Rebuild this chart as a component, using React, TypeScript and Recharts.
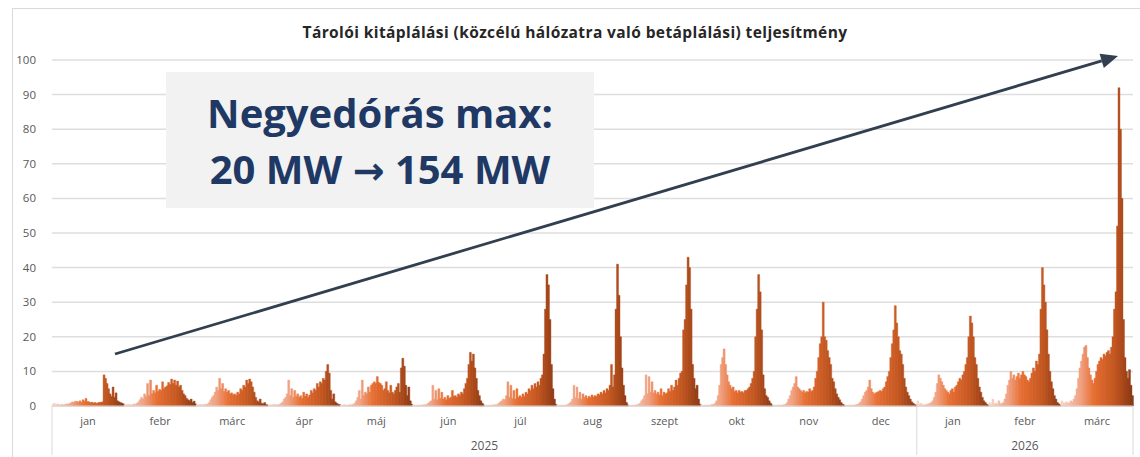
import React from "react";
import { Bar, BarChart, CartesianGrid, Cell, XAxis, YAxis } from "recharts";

// 15 months, each split into 48 half-hour slots of the day
const monthLabels = ["jan", "febr", "márc", "ápr", "máj", "jún", "júl", "aug", "szept", "okt", "nov", "dec", "jan", "febr", "márc"];
const monthYears = ["2025", "2025", "2025", "2025", "2025", "2025", "2025", "2025", "2025", "2025", "2025", "2025", "2026", "2026", "2026"];
const yTicks = [0, 10, 20, 30, 40, 50, 60, 70, 80, 90, 100];

const jan25 = [
  0.5, 0.8, 0.3, 0.6, 0.4, 0.3, 0.5, 0.3, 0.4, 0.6, 0.5, 0.7,
  0.9, 1.2, 1.0, 1.4, 1.3, 1.2, 1.5, 1.1, 1.8, 1.4, 2.2, 1.3,
  1.2, 1.0, 1.1, 0.9, 1.0, 0.8, 0.9, 1.1, 1.0, 1.2, 9.0, 8.0,
  6.5, 5.0, 3.5, 2.8, 5.5, 2.5, 3.8, 1.5, 1.2, 1.0, 0.8, 0.6,
];
const feb25 = [
  0.4, 0.3, 0.5, 0.3, 0.4, 0.3, 0.6, 0.5, 0.8, 1.2, 1.8, 2.5,
  2.0, 3.5, 2.8, 6.5, 3.0, 7.5, 3.5, 4.5, 3.8, 6.0, 4.2, 4.8,
  4.5, 7.0, 5.0, 5.5, 5.8, 6.8, 6.2, 7.8, 6.5, 7.5, 6.0, 7.2,
  5.5, 6.0, 4.5, 3.5, 3.0, 2.2, 1.8, 1.5, 2.0, 1.0, 1.4, 0.6,
];
const mar25 = [
  0.4, 0.3, 0.5, 0.4, 0.3, 0.5, 0.4, 0.6, 1.0, 1.8, 2.5, 3.0,
  4.0, 5.5, 4.5, 8.0, 5.0, 6.5, 4.2, 5.0, 4.0, 4.5, 3.5, 3.8,
  3.2, 3.5, 3.0, 4.0, 3.5, 5.0, 4.5, 6.0, 5.5, 7.5, 6.5, 7.8,
  7.0, 5.5, 4.0, 2.5, 1.5, 1.2, 2.0, 0.8, 0.6, 1.0, 0.4, 0.3,
];
const apr25 = [
  0.3, 0.4, 0.3, 0.5, 0.3, 0.4, 0.3, 0.5, 0.8, 1.2, 2.0, 2.5,
  3.5, 7.5, 3.0, 5.0, 2.5, 4.5, 2.8, 3.5, 2.5, 3.0, 2.2, 4.0,
  2.8, 3.5, 2.5, 3.2, 4.5, 3.8, 5.0, 4.5, 6.5, 5.5, 7.0, 6.5,
  8.0, 7.5, 10.0, 12.0, 9.5, 4.5, 2.0, 3.5, 1.2, 0.8, 0.5, 0.4,
];
const may25 = [
  0.3, 0.2, 0.4, 0.3, 0.2, 0.3, 0.4, 0.3, 0.5, 0.8, 1.5, 2.5,
  4.5, 2.0, 7.5, 3.0, 4.0, 3.5, 5.5, 4.0, 6.0, 6.5, 7.0, 6.5,
  8.5, 6.8, 6.5, 6.0, 4.5, 5.0, 7.0, 4.5, 3.8, 6.0, 4.0, 3.5,
  4.5, 5.5, 6.5, 4.0, 11.0, 13.8, 11.5, 6.0, 3.0, 5.5, 1.5, 0.5,
];
const jun25 = [
  0.3, 0.2, 0.3, 0.2, 0.3, 0.2, 0.3, 0.4, 0.3, 0.5, 0.8, 1.2,
  1.5, 6.0, 2.0, 4.5, 1.8, 5.0, 2.2, 4.0, 2.0, 2.5, 1.8, 3.0,
  2.2, 2.5, 4.5, 2.8, 3.0, 2.5, 3.5, 3.0, 4.0, 3.5, 5.0, 6.5,
  8.0, 12.0, 15.5, 13.0, 15.0, 11.0, 8.0, 4.5, 3.0, 1.5, 0.8, 0.3,
];
const jul25 = [
  0.3, 0.2, 0.3, 0.2, 0.3, 0.2, 0.4, 0.3, 0.5, 0.8, 1.2, 1.5,
  2.0, 1.8, 3.0, 7.0, 2.5, 6.0, 2.2, 4.5, 2.0, 5.0, 2.5, 3.0,
  2.5, 3.5, 2.8, 4.0, 3.5, 5.0, 4.5, 6.0, 5.0, 6.5, 5.5, 7.0,
  6.0, 8.0, 9.0, 15.0, 28.0, 38.0, 35.0, 25.0, 12.0, 5.0, 2.0, 0.5,
];
const aug25 = [
  0.3, 0.2, 0.3, 0.2, 0.3, 0.2, 0.3, 0.5, 0.8, 1.2, 2.0, 6.0,
  2.5, 5.5, 2.2, 4.0, 2.0, 3.5, 2.5, 3.0, 2.2, 2.8, 2.5, 3.2,
  2.6, 3.0, 2.8, 3.5, 3.2, 4.0, 3.5, 4.5, 3.8, 5.0, 4.5, 6.0,
  12.0, 5.5, 9.0, 28.0, 41.0, 32.0, 20.0, 11.0, 6.0, 3.0, 1.0, 0.3,
];
const sep25 = [
  0.3, 0.2, 0.3, 0.2, 0.3, 0.4, 0.5, 0.8, 1.5, 2.0, 3.0, 9.0,
  3.5, 8.5, 4.0, 7.0, 3.8, 4.5, 3.5, 4.0, 3.2, 5.0, 3.0, 4.0,
  3.5, 3.8, 5.0, 4.2, 6.0, 4.5, 5.5, 7.5, 6.0, 8.0, 9.5, 10.0,
  22.0, 25.0, 35.0, 43.0, 40.0, 28.0, 12.0, 8.0, 5.0, 6.0, 2.0, 0.5,
];
const oct25 = [
  0.3, 0.2, 0.3, 0.2, 0.3, 0.2, 0.3, 0.5, 0.4, 0.8, 1.5, 3.0,
  6.0, 12.0, 14.0, 16.5, 12.0, 9.0, 7.0, 6.0, 5.0, 5.5, 4.2, 4.5,
  3.8, 4.5, 4.0, 4.2, 3.8, 4.5, 4.5, 5.0, 5.5, 6.5, 8.0, 10.0,
  20.0, 28.0, 38.0, 33.0, 22.0, 9.0, 5.0, 3.0, 2.5, 1.5, 0.8, 0.3,
];
const nov25 = [
  0.3, 0.2, 0.3, 0.2, 0.3, 0.2, 0.3, 0.4, 0.5, 1.0, 2.0, 3.0,
  4.5, 5.5, 6.5, 8.5, 5.5, 5.0, 4.5, 4.0, 4.5, 3.8, 4.2, 4.0,
  5.0, 4.2, 4.5, 5.5, 8.0, 10.0, 14.0, 18.0, 20.0, 30.0, 20.0, 19.0,
  16.0, 14.0, 12.0, 8.0, 7.0, 5.0, 3.5, 2.5, 1.8, 1.0, 0.5, 0.3,
];
const dec25 = [
  0.3, 0.2, 0.3, 0.2, 0.3, 0.2, 0.3, 0.4, 0.5, 0.8, 1.2, 2.0,
  3.0, 4.0, 4.5, 5.5, 7.5, 5.0, 4.0, 3.5, 3.8, 4.0, 4.2, 4.5,
  4.2, 5.0, 5.5, 7.0, 8.5, 10.0, 14.0, 18.0, 22.0, 29.0, 24.0, 20.0,
  16.0, 15.0, 12.0, 8.0, 5.5, 4.0, 3.0, 2.0, 1.2, 0.8, 0.4, 0.3,
];
const jan26 = [
  1.5, 0.5, 0.8, 0.3, 0.4, 0.3, 0.5, 0.6, 0.8, 1.0, 1.5, 2.5,
  4.0, 6.5, 9.0, 8.0, 7.0, 6.0, 5.0, 4.5, 4.0, 3.5, 4.5, 5.0,
  4.0, 5.5, 6.0, 7.0, 8.0, 7.5, 9.0, 10.0, 12.0, 14.0, 20.0, 26.0,
  24.0, 20.0, 14.0, 12.0, 8.0, 5.5, 4.0, 2.5, 1.5, 1.0, 0.5, 0.3,
];
const feb26 = [
  1.0, 0.5, 2.0, 0.6, 0.8, 0.5, 1.5, 0.6, 0.8, 1.0, 2.0, 3.5,
  6.0, 7.5, 10.0, 8.0, 9.0, 7.5, 8.5, 9.5, 8.0, 9.0, 10.0, 9.0,
  8.5, 7.5, 7.0, 8.0, 9.5, 11.0, 10.0, 13.0, 12.0, 15.0, 28.0, 40.0,
  35.0, 30.0, 22.0, 15.0, 10.0, 7.0, 5.0, 3.0, 2.0, 1.0, 0.6, 0.3,
];
const mar26 = [
  1.5, 1.0, 0.8, 1.2, 0.8, 1.0, 1.5, 1.2, 2.0, 3.0, 5.0, 8.0,
  11.0, 13.0, 15.0, 17.0, 17.5, 14.0, 11.0, 9.0, 7.5, 6.5, 8.0, 10.0,
  12.0, 13.0, 14.0, 13.5, 15.0, 14.5, 15.5, 16.0, 15.0, 17.0, 20.0, 28.0,
  33.0, 52.0, 92.0, 80.0, 60.0, 25.0, 14.0, 10.0, 8.0, 10.5, 6.0, 3.0,
];

const monthValues = [jan25, feb25, mar25, apr25, may25, jun25, jul25, aug25, sep25, oct25, nov25, dec25, jan26, feb26, mar26];
const SLOTS = 48;

type Row = { key: string; month: number; slot: number; value: number };
const data: Row[] = monthValues.flatMap((vals, m) =>
  vals.map((v, i) => ({ key: `${m}-${i}`, month: m, slot: i, value: v }))
);

const WIDTH = 1140;
const HEIGHT = 457;
const MARGIN = { top: 60, right: 7, left: 0, bottom: 0 };
const Y_AXIS_W = 52;
const X_AXIS_H = 51;
const PLOT_W = WIDTH - MARGIN.left - MARGIN.right - Y_AXIS_W;
const BAND = PLOT_W / data.length;

// light salmon -> orange -> rust, across the hours of each day
const colorStops: [number, number[]][] = [
  [0, [248, 212, 198]],
  [0.28, [240, 160, 128]],
  [0.45, [232, 112, 52]],
  [0.75, [196, 88, 34]],
  [1, [138, 58, 22]],
];
function slotColor(slot: number) {
  const f = slot / (SLOTS - 1);
  for (let k = 1; k < colorStops.length; k++) {
    const [f1, c1] = colorStops[k];
    const [f0, c0] = colorStops[k - 1];
    if (f <= f1) {
      const t = (f - f0) / (f1 - f0);
      const c = c0.map((v, j) => Math.round(v + (c1[j] - v) * t));
      return `rgb(${c[0]},${c[1]},${c[2]})`;
    }
  }
  return "rgb(138,58,22)";
}

const yearStarts: Record<string, number> = {};
const yearCounts: Record<string, number> = {};
monthYears.forEach((yr, m) => {
  if (yearStarts[yr] === undefined) yearStarts[yr] = m * SLOTS;
  yearCounts[yr] = (yearCounts[yr] || 0) + SLOTS;
});

const labelFont = "'Open Sans', sans-serif";

function MonthTick(props: any) {
  const { x, y, index } = props;
  const row = data[index];
  if (!row) return <g />;
  const left = x - BAND / 2;
  const right = x + BAND / 2;
  const top = y - 8;
  const parts: React.ReactNode[] = [];
  if (row.slot === SLOTS / 2) {
    parts.push(
      <text key="m" x={left} y={top + 19} textAnchor="middle" fontSize={11} fill="#595959" fontFamily={labelFont}>
        {monthLabels[row.month]}
      </text>
    );
  }
  Object.keys(yearStarts).forEach((yr) => {
    if (index === yearStarts[yr]) {
      parts.push(<line key={"s" + yr} x1={left} x2={left} y1={top} y2={top + 49} stroke="#d9d9d9" />);
    }
    if (index === yearStarts[yr] + yearCounts[yr] / 2) {
      parts.push(
        <text key={"y" + yr} x={left} y={top + 44} textAnchor="middle" fontSize={12} fill="#595959" fontFamily={labelFont}>
          {yr}
        </text>
      );
    }
  });
  if (index === data.length - 1) {
    parts.push(<line key="end" x1={right} x2={right} y1={top} y2={top + 49} stroke="#d9d9d9" />);
  }
  return <g>{parts}</g>;
}

const arrowFrom = { x: 115, y: 354 };
const arrowTo = { x: 1118, y: 56 };

function Annotation() {
  const dx = arrowTo.x - arrowFrom.x;
  const dy = arrowTo.y - arrowFrom.y;
  const len = Math.hypot(dx, dy);
  const ux = dx / len;
  const uy = dy / len;
  const headLen = 17;
  const headHalf = 7.5;
  const bx = arrowTo.x - ux * headLen;
  const by = arrowTo.y - uy * headLen;
  const head = `${arrowTo.x},${arrowTo.y} ${bx - uy * headHalf},${by + ux * headHalf} ${bx + uy * headHalf},${by - ux * headHalf}`;
  return (
    <svg width={WIDTH} height={HEIGHT} style={{ position: "absolute", left: 0, top: 0, pointerEvents: "none" }}>
      <rect x={166} y={72} width={428} height={136} fill="#f2f2f2" />
      <text x={380} y={128} textAnchor="middle" fontSize={40} fontWeight={700} fill="#203864" fontFamily={labelFont}>
        Negyedórás max:
      </text>
      <text x={380} y={184} textAnchor="middle" fontSize={40} fontWeight={700} fill="#203864" fontFamily={labelFont}>
        20 MW <tspan fontFamily="'DejaVu Sans', sans-serif" fontSize={38}>→</tspan> 154 MW
      </text>
      <line x1={arrowFrom.x} y1={arrowFrom.y} x2={bx} y2={by} stroke="#323f4f" strokeWidth={2.8} />
      <polygon points={head} fill="#323f4f" />
    </svg>
  );
}

export default function App() {
  return (
    <div style={{ position: "absolute", left: 0, top: 0, width: WIDTH, height: HEIGHT, background: "#fff", overflow: "hidden" }}>
      <div style={{ position: "absolute", left: 12, top: 8, width: WIDTH, height: HEIGHT, border: "1px solid #d9d9d9" }} />
      <div
        style={{
          position: "absolute",
          left: 0,
          top: 21,
          width: WIDTH,
          textAlign: "center",
          fontFamily: labelFont,
          fontWeight: 700,
          fontSize: 15.5,
          letterSpacing: 0.4,
          color: "#262626",
          paddingLeft: 10,
          boxSizing: "border-box",
        }}
      >
        Tárolói kitáplálási (közcélú hálózatra való betáplálási) teljesítmény
      </div>
      <div style={{ position: "absolute", left: 0, top: 0 }}>
        <BarChart width={WIDTH} height={HEIGHT} data={data} margin={MARGIN} barCategoryGap={0} barGap={0}>
          <CartesianGrid stroke="#dedede" vertical={false} strokeWidth={1.5} />
          <XAxis
            dataKey="key"
            height={X_AXIS_H}
            interval={0}
            tickLine={false}
            axisLine={{ stroke: "#d9d9d9" }}
            tick={<MonthTick />}
          />
          <YAxis
            width={Y_AXIS_W}
            domain={[0, 100]}
            ticks={yTicks}
            interval={0}
            tickLine={false}
            axisLine={false}
            tickMargin={10}
            tick={{ fontSize: 11.5, fill: "#595959", fontFamily: labelFont }}
          />
          <Bar dataKey="value" isAnimationActive={false}>
            {data.map((row) => (
              <Cell key={row.key} fill={slotColor(row.slot)} stroke={slotColor(row.slot)} strokeWidth={0.4} />
            ))}
          </Bar>
        </BarChart>
      </div>
      <Annotation />
    </div>
  );
}
